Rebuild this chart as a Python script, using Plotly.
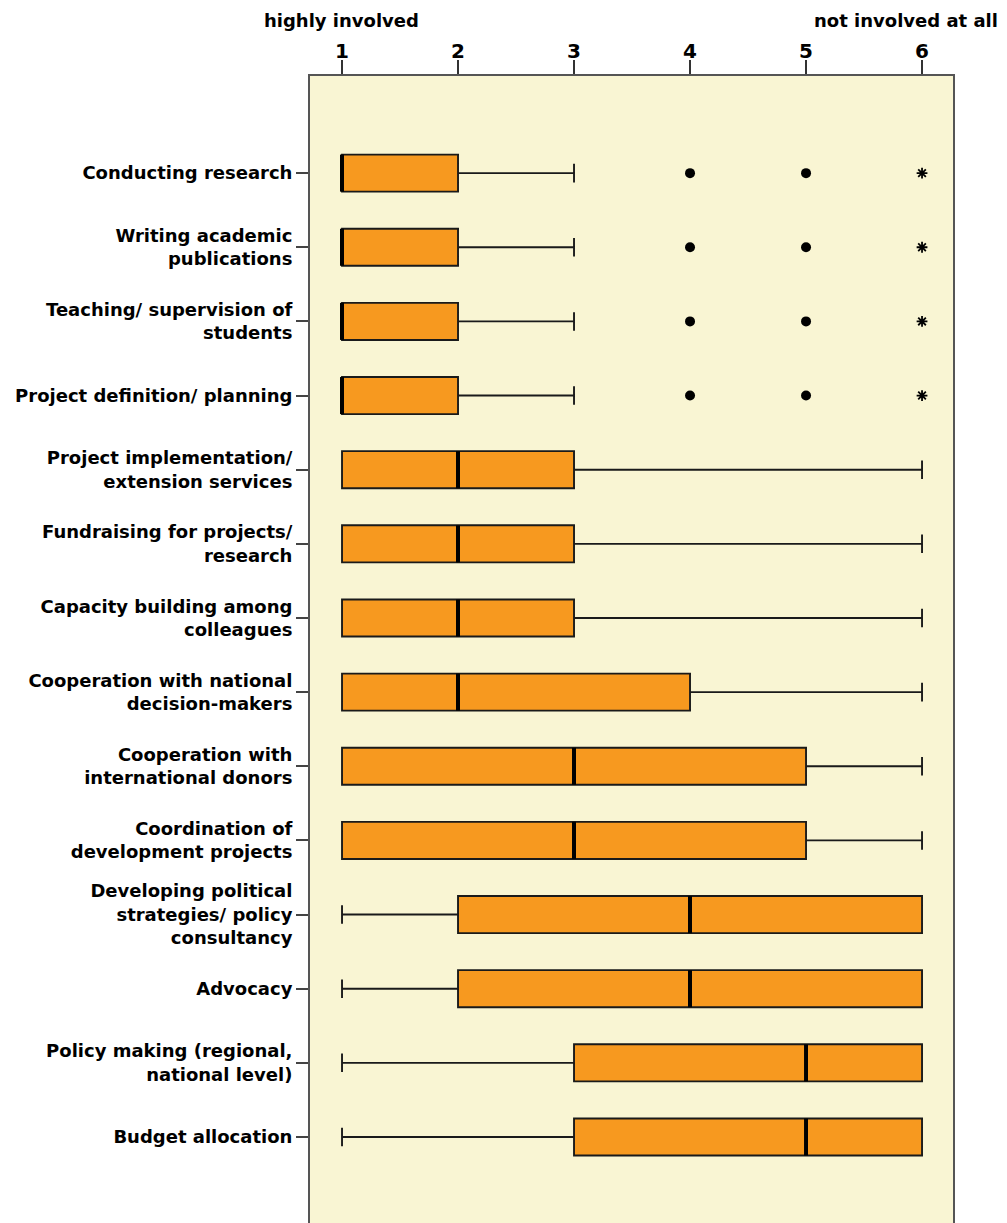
import plotly.graph_objects as go

categories = [
    "Conducting research",
    "Writing academic<br>publications",
    "Teaching/ supervision of<br>students",
    "Project definition/ planning",
    "Project implementation/<br>extension services",
    "Fundraising for projects/<br>research",
    "Capacity building among<br>colleagues",
    "Cooperation with national<br>decision-makers",
    "Cooperation with<br>international donors",
    "Coordination of<br>development projects",
    "Developing political<br>strategies/ policy<br>consultancy",
    "Advocacy",
    "Policy making (regional,<br>national level)",
    "Budget allocation",
]
lower_whisker = [1, 1, 1, 1, 1, 1, 1, 1, 1, 1, 1, 1, 1, 1]
q1 = [1, 1, 1, 1, 1, 1, 1, 1, 1, 1, 2, 2, 3, 3]
median = [1, 1, 1, 1, 2, 2, 2, 2, 3, 3, 4, 4, 5, 5]
q3 = [2, 2, 2, 2, 3, 3, 3, 4, 5, 5, 6, 6, 6, 6]
upper_whisker = [3, 3, 3, 3, 6, 6, 6, 6, 6, 6, 6, 6, 6, 6]
# outliers (circles) and extreme values (asterisks): (row index, value)
outlier_rows = [0, 0, 1, 1, 2, 2, 3, 3]
outlier_vals = [4, 5, 4, 5, 4, 5, 4, 5]
extreme_rows = [0, 1, 2, 3]
extreme_vals = [6, 6, 6, 6]
tick_vals = [1, 2, 3, 4, 5, 6]

pos = list(range(len(categories)))
FONT = "DejaVu Sans, Verdana, sans-serif"
BOXW = 0.5
# the page body has an 8px default margin, so the figure is shrunk by it
OFF = 8

fig = go.Figure()
fig.add_trace(go.Box(
    y=pos, q1=q1, median=median, q3=q3,
    lowerfence=lower_whisker, upperfence=upper_whisker,
    orientation="h", width=BOXW, whiskerwidth=0.5,
    fillcolor="#F7991F", line=dict(color="#1a1a1a", width=1.9),
    boxpoints=False, hoverinfo="skip", showlegend=False,
))

# thick median lines
mx, my = [], []
for p, m in zip(pos, median):
    mx += [m, m, None]
    my += [p - BOXW / 2, p + BOXW / 2, None]
fig.add_trace(go.Scatter(x=mx, y=my, mode="lines",
                         line=dict(color="black", width=4),
                         hoverinfo="skip", showlegend=False))

fig.add_trace(go.Scatter(x=outlier_vals, y=outlier_rows, mode="markers",
                         marker=dict(symbol="circle", size=10, color="black"),
                         hoverinfo="skip", showlegend=False))
fig.add_trace(go.Scatter(x=extreme_vals, y=extreme_rows, mode="markers",
                         marker=dict(symbol="asterisk-open", size=9, color="black",
                                     line=dict(color="black", width=1.8)),
                         hoverinfo="skip", showlegend=False))

lab_font = dict(family=FONT, size=18, weight="bold", color="black")

fig.update_layout(
    width=1007 - OFF, height=1223 - OFF,
    margin=dict(l=310 - OFF, r=54, t=76 - OFF, b=0, autoexpand=False),
    paper_bgcolor="white",
    plot_bgcolor="#F9F5D3",
    font=dict(family=FONT, color="black"),
    xaxis=dict(
        side="top", range=[0.724, 6.267], tickvals=tick_vals,
        ticks="outside", ticklen=14, tickwidth=1.5, tickcolor="#333333",
        ticklabelstandoff=-6,
        tickfont=dict(family=FONT, size=20, weight="bold", color="black"),
        showgrid=False, zeroline=False,
        showline=True, mirror=True, linecolor="#555555", linewidth=2,
    ),
    yaxis=dict(
        range=[14.16, -1.31], tickvals=pos, ticktext=categories,
        ticks="outside", ticklen=12, tickwidth=1.5, tickcolor="#444444",
        tickfont=lab_font,
        showgrid=False, zeroline=False,
        showline=True, mirror=True, linecolor="#555555", linewidth=2,
    ),
    annotations=[
        dict(text="highly involved", xref="paper", yref="paper",
             x=-0.075, y=1, yshift=56, xanchor="left", yanchor="middle",
             showarrow=False, font=lab_font),
        dict(text="not involved at all", xref="paper", yref="paper",
             x=1.073, y=1, yshift=56, xanchor="right", yanchor="middle",
             showarrow=False, font=lab_font),
    ],
)

fig.write_html("out.html")
